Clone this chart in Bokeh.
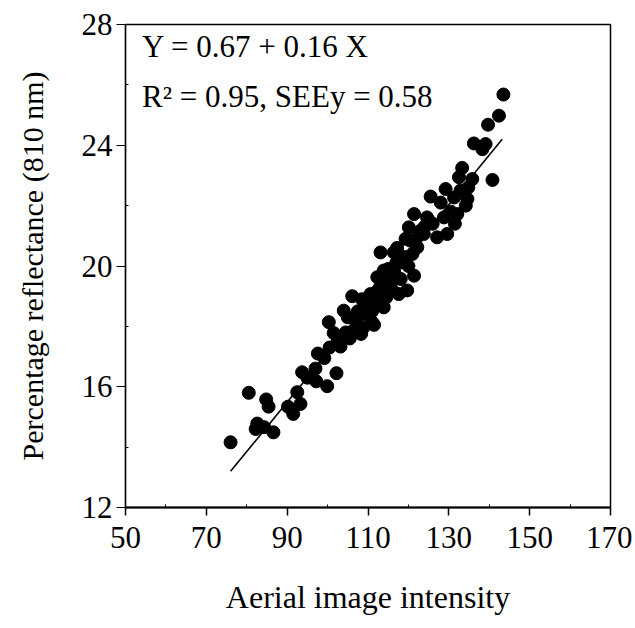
from bokeh.plotting import figure
from bokeh.models import Label, FixedTicker, Range1d
from bokeh.embed import file_html
from bokeh.resources import INLINE

# Data
intensity = [76.0, 80.5, 82.2, 82.6, 84.3, 84.8, 85.4, 86.6, 90.2, 91.5,
             92.5, 93.3, 93.7, 95.0, 97.0, 97.2, 97.6, 99.2, 99.9, 100.3,
             100.5, 101.5, 102.2, 102.5, 103.2, 104.0, 104.5, 105.0, 105.5, 106.1,
             106.5, 107.0, 107.5, 108.3, 108.5, 108.8, 109.0, 109.8, 110.0, 110.6,
             111.0, 111.0, 111.5, 111.8, 112.0, 112.3, 112.5, 113.0, 113.1, 113.9,
             113.9, 114.5, 114.5, 115.0, 115.6, 116.0, 116.4, 116.5, 117.0, 117.2,
             117.6, 118.1, 118.1, 119.0, 119.3, 119.7, 120.0, 120.1, 120.5, 121.0,
             121.4, 121.4, 122.2, 122.5, 123.0, 123.8, 124.0, 124.6, 125.1, 125.5,
             126.0, 127.1, 128.0, 128.8, 129.2, 129.6, 130.5, 131.3, 131.5, 132.1,
             132.5, 132.9, 133.3, 134.2, 134.6, 134.8, 135.8, 136.2, 138.3, 139.1,
             139.7, 140.8, 142.4, 143.5]
reflectance = [14.16, 15.80, 14.60, 14.78, 14.66, 15.58, 15.34, 14.49, 15.34, 15.10,
               15.82, 15.43, 16.48, 16.30, 16.60, 16.18, 17.10, 16.95, 16.02, 18.14,
               17.30, 17.78, 16.45, 17.50, 17.33, 18.52, 17.80, 18.30, 17.60, 19.00,
               17.86, 18.20, 18.50, 17.75, 18.90, 17.95, 18.41, 18.63, 18.90, 19.07,
               18.14, 18.50, 18.05, 19.10, 18.80, 19.63, 19.20, 19.30, 20.45, 19.85,
               18.63, 18.96, 19.50, 19.90, 19.41, 19.20, 20.45, 19.80, 20.10, 20.60,
               19.07, 19.57, 20.12, 20.30, 20.90, 19.19, 20.00, 21.28, 20.84, 20.40,
               19.68, 21.72, 20.62, 21.00, 21.17, 21.06, 21.30, 21.61, 21.50, 22.30,
               21.40, 20.95, 22.10, 21.61, 22.55, 21.06, 21.80, 22.27, 21.40, 21.72,
               22.94, 22.50, 23.25, 22.00, 22.22, 22.60, 22.88, 24.06, 23.87, 24.04,
               24.68, 22.85, 24.98, 25.68]

fit_x = [76.0, 143.2]
fit_y = [13.2, 24.2]

x_ticks = [50, 70, 90, 110, 130, 150, 170]
x_minor = [60, 80, 100, 120, 140, 160]
y_ticks = [12, 16, 20, 24, 28]
y_minor = [14, 18, 22, 26]

equation_lines = ["Y = 0.67 + 0.16 X", "R\u00b2 = 0.95, SEEy = 0.58"]
equation_x = 54.1
equation_y = [27.27, 25.60]

FONT = "Liberation Serif"

p = figure(width=632, height=625, output_backend="svg", toolbar_location=None,
           x_range=Range1d(50, 170), y_range=Range1d(12, 28),
           min_border_left=125, min_border_right=22, min_border_top=24,
           min_border_bottom=118)
p.grid.visible = False
p.background_fill_color = "white"
p.border_fill_color = "white"
p.outline_line_color = "black"
p.outline_line_width = 1.5

p.line(fit_x, fit_y, line_color="black", line_width=1.6)
p.scatter(intensity, reflectance, size=13, fill_color="black", line_color="black")

p.xaxis.ticker = FixedTicker(ticks=x_ticks, minor_ticks=x_minor)
p.yaxis.ticker = FixedTicker(ticks=y_ticks, minor_ticks=y_minor)

for ax in (p.xaxis[0], p.yaxis[0]):
    ax.major_label_text_font = FONT
    ax.major_label_text_font_size = "31px"
    ax.major_label_text_color = "black"
    ax.axis_label_text_font = FONT
    ax.axis_label_text_font_style = "normal"
    ax.axis_label_text_color = "black"
    ax.axis_line_color = "black"
    ax.major_tick_line_color = "black"
    ax.minor_tick_line_color = "black"
    ax.major_tick_in = 0
    ax.minor_tick_in = 3
    ax.minor_tick_out = 0

p.xaxis.axis_label = "Aerial image intensity"
p.xaxis.axis_label_text_font_size = "32px"
p.xaxis.axis_line_width = 2
p.xaxis.major_tick_out = 8
p.xaxis.major_tick_line_width = 1.5
p.xaxis.major_label_standoff = 11
p.xaxis.axis_label_standoff = 28

p.yaxis.axis_label = "Percentage reflectance (810 nm)"
p.yaxis.axis_label_text_font_size = "30px"
p.yaxis.axis_line_width = 1.2
p.yaxis.major_tick_out = 9
p.yaxis.major_tick_line_width = 1.2
p.yaxis.major_label_standoff = 4
p.yaxis.axis_label_standoff = 30

for txt, ty in zip(equation_lines, equation_y):
    p.add_layout(Label(x=equation_x, y=ty, text=txt,
                       text_font=FONT, text_font_size="31px",
                       text_color="black", text_baseline="alphabetic"))

open("out.html", "w").write(file_html(p, INLINE))
